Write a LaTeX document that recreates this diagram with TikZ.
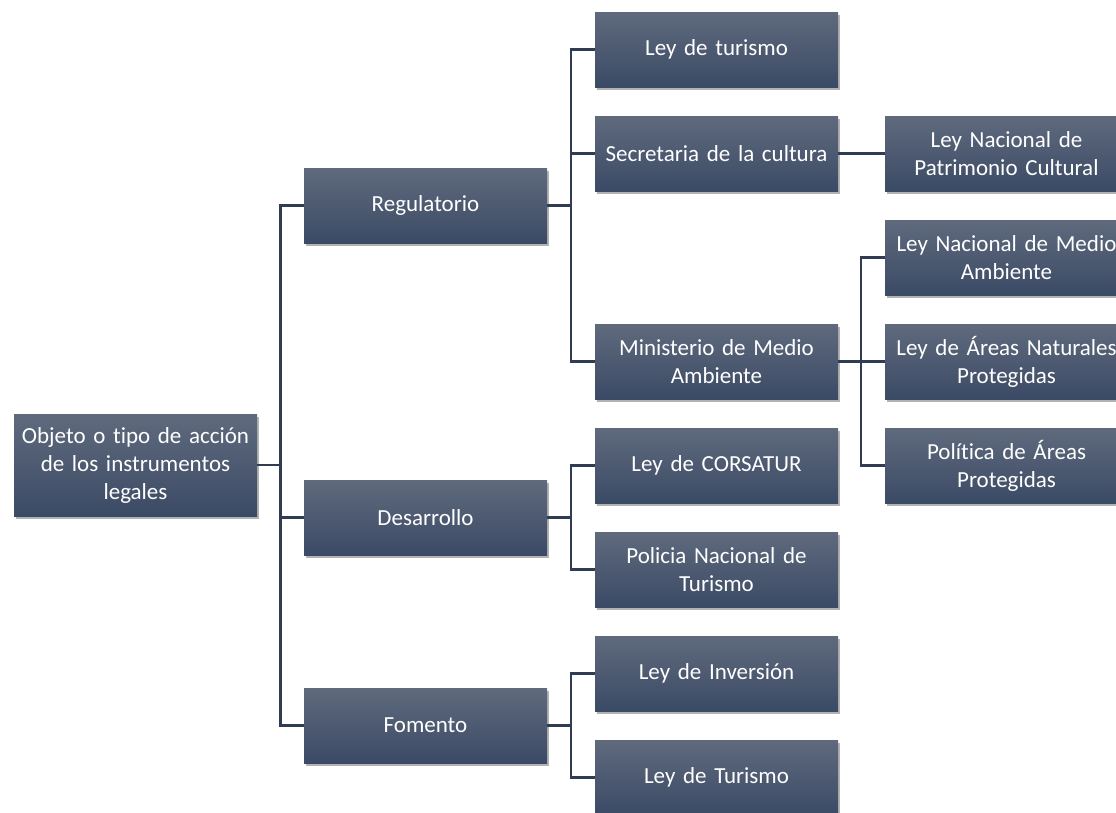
\documentclass[tikz,border=0pt]{standalone}
\usepackage{fontspec}
\setmainfont{Carlito}[Ligatures=NoCommon]
\usetikzlibrary{shadows}
\definecolor{boxtop}{RGB}{95,106,125}
\definecolor{boxbot}{RGB}{59,74,101}
\definecolor{linec}{RGB}{47,60,82}
\tikzset{
  box/.style={rectangle, minimum width=243pt, minimum height=75pt, inner sep=0pt,
    text width=243pt, align=center, text=white, top color=boxtop, bottom color=boxbot,
    font=\fontsize{23}{28}\selectfont,
    drop shadow={shadow xshift=2pt, shadow yshift=-3pt, fill=black, opacity=0.3}},
  conn/.style={draw=linec, line width=2.5pt}
}
\begin{document}
\begin{tikzpicture}[x=1pt,y=-1pt]
\useasboundingbox (0,0) rectangle (1116,812);
% level 0
\node[box, minimum height=102pt] (root) at (135.5,465) {Objeto o tipo de acción\\de los instrumentos\\legales};
% level 1
\node[box] (reg) at (425.5,205.5) {Regulatorio};
\node[box] (des) at (425.5,517.5) {Desarrollo};
\node[box] (fom) at (425.5,725.5) {Fomento};
% level 2
\node[box] (tur) at (716.5,49.5) {Ley de turismo};
\node[box] (sec) at (716.5,153.5) {Secretaria de la cultura};
\node[box] (min) at (716.5,361.5) {Ministerio de Medio\\Ambiente};
\node[box] (cor) at (716.5,465.5) {Ley de CORSATUR};
\node[box] (pol) at (716.5,569.5) {Policia Nacional de\\Turismo};
\node[box] (inv) at (716.5,673.5) {Ley de Inversión};
\node[box] (tur2) at (716.5,777.5) {Ley de Turismo};
% level 3
\node[box] (pat) at (1006.5,153.5) {Ley Nacional de\\Patrimonio Cultural};
\node[box] (med) at (1006.5,257.5) {Ley Nacional de Medio\\Ambiente};
\node[box] (are) at (1006.5,361.5) {Ley de Áreas Naturales\\Protegidas};
\node[box] (pap) at (1006.5,465.5) {Política de Áreas\\Protegidas};
% connectors
\foreach \c in {reg,des,fom}
  \draw[conn] (\c.west) -- ++(-23.5,0) |- (root.east);
\foreach \c in {tur,sec,min}
  \draw[conn] (\c.west) -- ++(-24,0) |- (reg.east);
\foreach \c in {cor,pol}
  \draw[conn] (\c.west) -- ++(-24,0) |- (des.east);
\foreach \c in {inv,tur2}
  \draw[conn] (\c.west) -- ++(-24,0) |- (fom.east);
\draw[conn] (sec.east) -- (pat.west);
\foreach \c in {med,are,pap}
  \draw[conn] (\c.west) -- ++(-24,0) |- (min.east);
\end{tikzpicture}
\end{document}
